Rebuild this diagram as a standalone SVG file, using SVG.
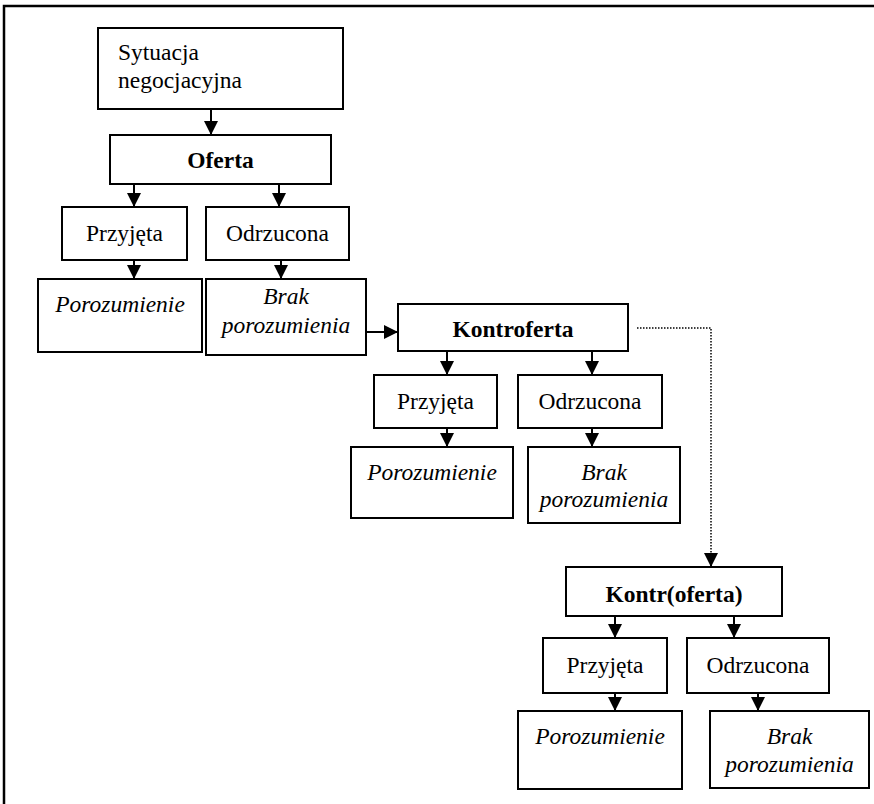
<svg xmlns="http://www.w3.org/2000/svg" width="874" height="804" viewBox="0 0 874 804">
<style>
.box{fill:#fff;stroke:#000;stroke-width:2}
text{font-family:"Liberation Serif","Times New Roman",serif;font-size:23.5px;fill:#000}
.c{text-anchor:middle}
.b{font-weight:bold}
.i{font-style:italic}
.ln{stroke:#000;stroke-width:2;fill:none}
.dot{stroke:#000;stroke-width:1.5;fill:none;stroke-dasharray:1.5 1.5}
</style>
<defs>
<marker id="ah" markerUnits="userSpaceOnUse" markerWidth="14" markerHeight="14" refX="14" refY="7" orient="auto">
<path d="M0,0 L14,7 L0,14 z" fill="#000"/>
</marker>
</defs>
<rect width="874" height="804" fill="#fff"/>
<rect x="4" y="6" width="880" height="810" fill="none" stroke="#000" stroke-width="2.5"/>
<g id="connectors">
<line class="ln" x1="211" y1="109" x2="211" y2="135" marker-end="url(#ah)"/>
<line class="ln" x1="134" y1="184" x2="134" y2="207" marker-end="url(#ah)"/>
<line class="ln" x1="279" y1="184" x2="279" y2="207" marker-end="url(#ah)"/>
<line class="ln" x1="134" y1="260" x2="134" y2="279" marker-end="url(#ah)"/>
<line class="ln" x1="281" y1="255" x2="281" y2="279" marker-end="url(#ah)"/>
<line class="ln" x1="366" y1="332" x2="398" y2="332" marker-end="url(#ah)"/>
<line class="ln" x1="447" y1="351" x2="447" y2="375" marker-end="url(#ah)"/>
<line class="ln" x1="592" y1="351" x2="592" y2="375" marker-end="url(#ah)"/>
<line class="ln" x1="447" y1="423" x2="447" y2="447" marker-end="url(#ah)"/>
<line class="ln" x1="592" y1="423" x2="592" y2="447" marker-end="url(#ah)"/>
<polyline class="dot" points="637,328 711,328 711,556"/>
<line class="ln" x1="711" y1="553" x2="711" y2="567" marker-end="url(#ah)"/>
<line class="ln" x1="615" y1="616" x2="615" y2="638" marker-end="url(#ah)"/>
<line class="ln" x1="734" y1="616" x2="734" y2="638" marker-end="url(#ah)"/>
<line class="ln" x1="615" y1="687" x2="615" y2="711" marker-end="url(#ah)"/>
<line class="ln" x1="758" y1="687" x2="758" y2="711" marker-end="url(#ah)"/>
</g>
<g id="sytuacja"><rect class="box" x="98" y="28" width="245" height="81"/><text x="118" y="60">Sytuacja</text><text x="118" y="88">negocjacyjna</text></g>
<g id="oferta"><rect class="box" x="110" y="135" width="221" height="49"/><text class="c b" x="220.5" y="168">Oferta</text></g>
<g id="przyjeta1"><rect class="box" x="62" y="207" width="125" height="53"/><text class="c" x="124.5" y="241">Przyjęta</text></g>
<g id="odrzucona1"><rect class="box" x="206" y="207" width="143" height="53"/><text class="c" x="277.5" y="241">Odrzucona</text></g>
<g id="porozumienie1"><rect class="box" x="38" y="279" width="164" height="73"/><text class="c i" x="120" y="312">Porozumienie</text></g>
<g id="brak1"><rect class="box" x="206" y="279" width="160" height="76"/><text class="c i" x="286" y="304">Brak</text><text class="c i" x="286" y="333">porozumienia</text></g>
<g id="kontroferta"><rect class="box" x="398" y="304" width="230" height="47"/><text class="c b" x="513" y="337">Kontroferta</text></g>
<g id="przyjeta2"><rect class="box" x="374" y="375" width="123" height="53"/><text class="c" x="435.5" y="409">Przyjęta</text></g>
<g id="odrzucona2"><rect class="box" x="518" y="375" width="144" height="53"/><text class="c" x="590" y="409">Odrzucona</text></g>
<g id="porozumienie2"><rect class="box" x="351" y="447" width="162" height="71"/><text class="c i" x="432" y="480">Porozumienie</text></g>
<g id="brak2"><rect class="box" x="528" y="447" width="152" height="76"/><text class="c i" x="604" y="480">Brak</text><text class="c i" x="604" y="507">porozumienia</text></g>
<g id="kontroferta2"><rect class="box" x="566" y="567" width="216" height="49"/><text class="c b" x="674" y="602">Kontr(oferta)</text></g>
<g id="przyjeta3"><rect class="box" x="543" y="638" width="124" height="55"/><text class="c" x="605" y="673">Przyjęta</text></g>
<g id="odrzucona3"><rect class="box" x="687" y="638" width="142" height="55"/><text class="c" x="758" y="673">Odrzucona</text></g>
<g id="porozumienie3"><rect class="box" x="518" y="711" width="164" height="78"/><text class="c i" x="600" y="744">Porozumienie</text></g>
<g id="brak3"><rect class="box" x="710" y="711" width="159" height="77"/><text class="c i" x="789.5" y="744">Brak</text><text class="c i" x="789.5" y="772">porozumienia</text></g>
</svg>
